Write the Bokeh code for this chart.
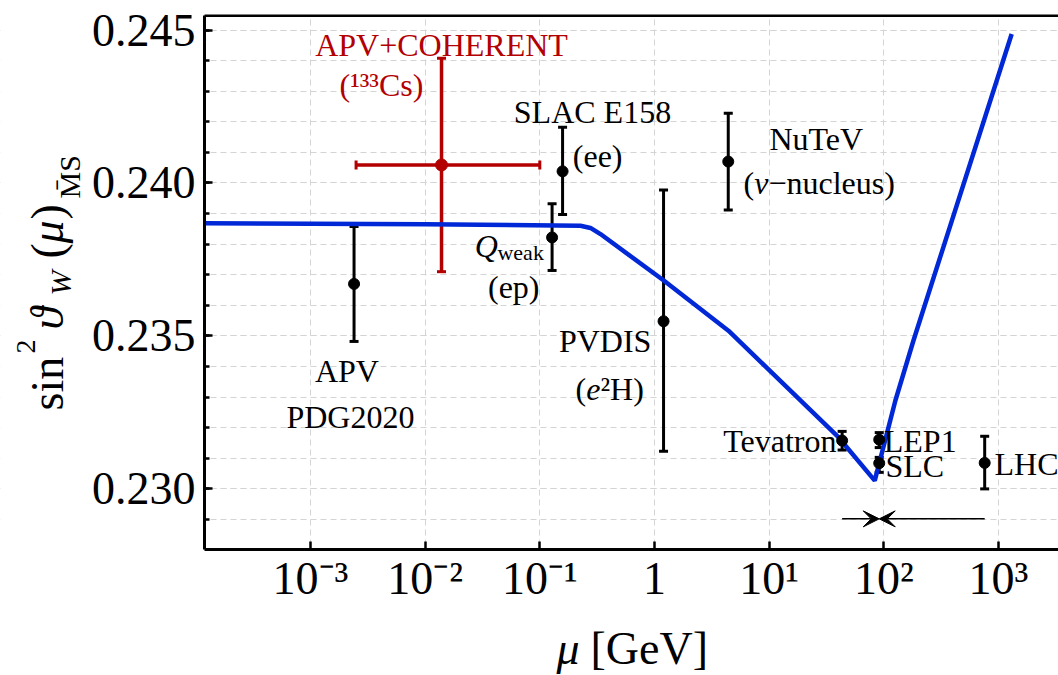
import math
from bokeh.plotting import figure
from bokeh.models import (ColumnDataSource, Whisker, TeeHead, Arrow, VeeHead, Label,
                          BoxAnnotation, LinearAxis, FixedTicker, CustomJSTickFormatter)
from bokeh.embed import file_html
from bokeh.resources import INLINE

# ---- data ----
# running of sin^2 theta_W (MS-bar)
curve_mu = [1.191e-4, 1.0e-2, 0.2265, 0.2767, 0.3381, 1.205, 4.416, 40.18, 83.37, 126.2, 181.4, 1303.0]
curve_s2w = [0.23868, 0.23865, 0.23860, 0.23853, 0.23833, 0.23681, 0.23517, 0.23169, 0.23027, 0.23289, 0.23485, 0.24487]

# black measurements
exp_names = ["APV PDG2020", "Qweak", "SLAC E158", "PVDIS", "NuTeV", "Tevatron", "LEP1", "SLC", "LHC"]
exp_mu = [0.0024, 0.128, 0.158, 1.2, 4.4, 43.3, 91.19, 91.19, 758.0]
exp_s2w = [0.23670, 0.23822, 0.24038, 0.23548, 0.24070, 0.23158, 0.23161, 0.23084, 0.23085]
exp_lo = [0.23482, 0.23714, 0.23897, 0.23123, 0.23912, 0.23127, 0.23135, 0.23054, 0.23000]
exp_hi = [0.23858, 0.23932, 0.24182, 0.23977, 0.24228, 0.23188, 0.23184, 0.23103, 0.23172]

# APV + COHERENT (red)
red_mu = [0.0139]
red_s2w = [0.24059]
red_lo = [0.23710]
red_hi = [0.24408]
red_mu_lo = [0.0025]
red_mu_hi = [0.1]

# energy-range arrow
arrow_y = 0.22902
arrow_left = 43.3
arrow_mid = 91.19
arrow_right = 758.0

x_ticks = [1e-3, 1e-2, 1e-1, 1.0, 1e1, 1e2, 1e3]
y_ticks = [0.230, 0.235, 0.240, 0.245]
y_minor = [0.229 + 0.001 * i for i in range(17)]

# visible box of the plot
X_MIN, X_MAX = 1.191e-4, 3337.0
Y_MIN, Y_MAX = 0.22802, 0.24547
Y_LO_FULL, Y_HI_FULL = 0.22390, 0.245507
FRAME_H = 661  # px

FONT = "Liberation Serif"
BLUE = "#0028d7"
RED = "#b30000"
GRID = "#d4d4d4"

# the frame covers the whole canvas; axes sit at fixed data locations
p = figure(width=1058, height=675, x_axis_type="log",
           x_range=(1.982e-6, X_MAX), y_range=(Y_LO_FULL, Y_HI_FULL),
           output_backend="svg", toolbar_location=None,
           min_border_left=0, min_border_right=0, min_border_top=14, min_border_bottom=0)
p.outline_line_color = None
p.background_fill_color = "white"

def style_axis(ax):
    ax.axis_line_width = 3
    ax.axis_line_color = "black"
    ax.major_tick_in = 8
    ax.major_tick_out = 0
    ax.major_tick_line_width = 2.5
    ax.major_tick_line_color = "black"
    ax.minor_tick_in = 5
    ax.minor_tick_out = 0
    ax.minor_tick_line_width = 2.5
    ax.major_label_text_font = FONT
    ax.major_label_text_font_size = "46px"
    ax.major_label_text_color = "black"

xa = p.xaxis[0]
ya = p.yaxis[0]
style_axis(xa)
style_axis(ya)

xa.fixed_location = Y_MIN
xa.bounds = (X_MIN, X_MAX)
xa.ticker = FixedTicker(ticks=x_ticks)
xa.minor_tick_line_color = None
xa.major_label_standoff = 4
xa.formatter = CustomJSTickFormatter(code="""
const e = Math.round(Math.log10(tick));
if (e === 0) return "1";
const sup = {"-":"\u207b","0":"\u2070","1":"\u00b9","2":"\u00b2","3":"\u00b3","4":"\u2074","5":"\u2075","6":"\u2076","7":"\u2077","8":"\u2078","9":"\u2079"};
return "10" + String(e).split("").map(c => sup[c]).join("");
""")

ya.fixed_location = X_MIN
ya.bounds = (Y_MIN, Y_MAX)
ya.ticker = FixedTicker(ticks=y_ticks, minor_ticks=y_minor)
ya.major_label_standoff = 9
ya.formatter = CustomJSTickFormatter(code="return tick.toFixed(3);")

# top edge of the box: a bare axis line
top = LinearAxis(fixed_location=Y_MAX, bounds=(X_MIN, X_MAX), axis_line_width=3,
                 axis_line_color="black", major_tick_line_color=None, minor_tick_line_color=None,
                 major_label_text_font_size="0px", major_label_text_alpha=0)
p.add_layout(top, "above")

# grids
p.xgrid.grid_line_color = GRID
p.xgrid.grid_line_dash = "6 4"
p.xgrid.grid_line_width = 1
p.ygrid.grid_line_color = GRID
p.ygrid.grid_line_dash = "6 4"
p.ygrid.grid_line_width = 1
p.ygrid.minor_grid_line_color = GRID
p.ygrid.minor_grid_line_dash = "6 4"
p.ygrid.minor_grid_line_width = 1

# white margins (hide grid lines outside the box)
p.add_layout(BoxAnnotation(right=X_MIN, fill_color="white", fill_alpha=1, line_alpha=0, level="glyph"))
p.add_layout(BoxAnnotation(top=Y_MIN, fill_color="white", fill_alpha=1, line_alpha=0, level="glyph"))

# curve
p.line(curve_mu, curve_s2w, line_color=BLUE, line_width=4.5)

# black error bars
src = ColumnDataSource(dict(x=exp_mu, y=exp_s2w, lo=exp_lo, hi=exp_hi))
p.add_layout(Whisker(source=src, base="x", lower="lo", upper="hi", dimension="height",
                     line_color="black", line_width=3,
                     lower_head=TeeHead(size=9, line_width=3, line_color="black"),
                     upper_head=TeeHead(size=9, line_width=3, line_color="black")))
p.scatter("x", "y", source=src, size=11, color="black")

# red point
rsrc = ColumnDataSource(dict(x=red_mu, y=red_s2w, lo=red_lo, hi=red_hi, xlo=red_mu_lo, xhi=red_mu_hi))
p.add_layout(Whisker(source=rsrc, base="x", lower="lo", upper="hi", dimension="height",
                     line_color=RED, line_width=3.5,
                     lower_head=TeeHead(size=9, line_width=3, line_color=RED),
                     upper_head=TeeHead(size=9, line_width=3, line_color=RED)))
p.add_layout(Whisker(source=rsrc, base="y", lower="xlo", upper="xhi", dimension="width",
                     line_color=RED, line_width=3.5,
                     lower_head=TeeHead(size=9, line_width=3, line_color=RED),
                     upper_head=TeeHead(size=9, line_width=3, line_color=RED)))
p.scatter("x", "y", source=rsrc, size=12, color=RED)

# arrows
for xs in (arrow_left, arrow_right):
    p.add_layout(Arrow(x_start=xs, y_start=arrow_y, x_end=arrow_mid, y_end=arrow_y,
                       line_width=1.5, line_color="black",
                       end=VeeHead(size=16, fill_color="black", line_color="black", line_width=1)))

# annotations (data units; baseline given, lifted by the renderer's descent offset)
PX = (Y_HI_FULL - Y_LO_FULL) / FRAME_H

def lab(text, x, y, align="center", size=32, color="black", style="normal"):
    p.add_layout(Label(x=x, y=y + 0.31 * size * PX, text=text, text_align=align,
                       text_baseline="alphabetic", text_font=FONT, text_font_size=f"{size}px",
                       text_color=color, text_font_style=style))

lab("APV+COHERENT", 0.0139, 0.24417, color=RED)
lab("(\u00b9\u00b3\u00b3Cs)", 0.00416, 0.24289, color=RED)
lab("SLAC E158", 0.2879, 0.24198)
lab("(ee)", 0.1939, 0.24057, align="left")
lab("Q", 0.0271, 0.23763, align="left", style="italic")
lab("weak", 0.04274, 0.23750, align="left", size=22)
lab("(ep)", 0.05929, 0.23629)
lab("NuTeV", 25.76, 0.24112)
lab("(", 5.972, 0.23966, align="left")
lab("\u03bd", 7.404, 0.23966, align="left", style="italic")
lab("\u2212nucleus)", 9.867, 0.23966, align="left")
lab("APV", 0.002081, 0.23352)
lab("PDG2020", 0.002233, 0.23204)
lab("PVDIS", 0.3716, 0.23450)
lab("(", 0.2047, 0.23294, align="left")
lab("e", 0.2537, 0.23294, align="left", style="italic")
lab("\u00b2H)", 0.3381, 0.23294, align="left")
lab("Tevatron", 38.66, 0.23125, align="right")
lab("LEP1", 99.9, 0.23125, align="left")
lab("SLC", 103.4, 0.23044, align="left")
lab("LHC", 922.8, 0.23049, align="left")

# axis titles built from pieces (screen units relative to the frame's bottom-left)
def slab(text, x, y, size, style="normal", angle=0.0):
    p.add_layout(Label(x=x, y=y, x_units="screen", y_units="screen", text=text,
                       text_align="left", text_baseline="alphabetic", angle=angle,
                       text_font=FONT, text_font_size=f"{size}px", text_font_style=style,
                       text_color="black"))

R = math.pi / 2
slab("sin", 47, 265, 46, angle=R)
slab("2", 25, 322, 28, angle=R)
slab("\u03d1", 47, 346, 46, style="italic", angle=R)
slab("W", 60, 380, 30, style="italic", angle=R)
slab("(", 47, 417, 46, angle=R)
slab("\u03bc", 47, 432, 46, style="italic", angle=R)
slab(")", 47, 456, 46, angle=R)
slab("M\u0304S", 69, 477, 30, angle=R)

slab("\u03bc", 556, 27, 46, style="italic")
slab("[GeV]", 590, 27, 46)

open("out.html", "w").write(file_html(p, INLINE))
